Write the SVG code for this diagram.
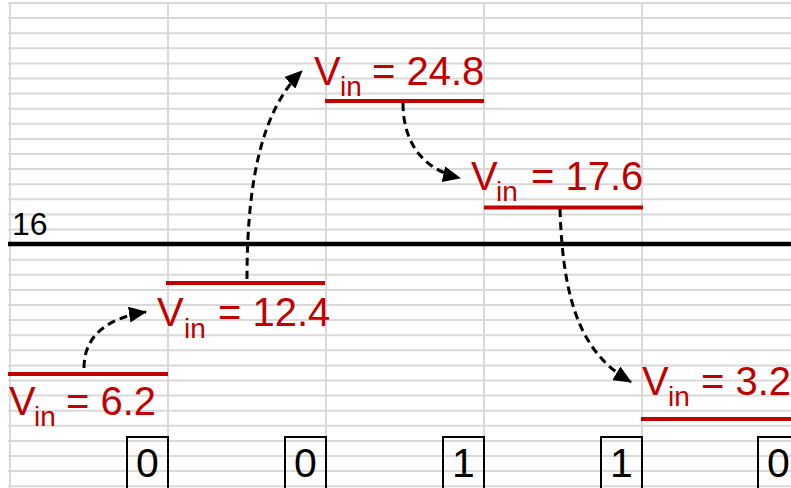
<svg xmlns="http://www.w3.org/2000/svg" width="791" height="488" viewBox="0 0 791 488">
<style>
.grid{stroke:#d9d9d9;stroke-width:2;fill:none}
.lvl{stroke:#c00000;stroke-width:4}
.vt{font-family:"Liberation Sans",Arial,sans-serif;font-size:40px;fill:#c00000}
.sub{font-size:28px}
.box{fill:none;stroke:#000;stroke-width:2}
.bit{font-family:"Liberation Sans",Arial,sans-serif;font-size:41px;fill:#000;text-anchor:middle}
.conn{fill:none;stroke:#000;stroke-width:3;stroke-dasharray:8 5;marker-end:url(#ah)}
</style>
<defs>
<marker id="ah" viewBox="0 0 18 16" refX="17" refY="8" markerWidth="18" markerHeight="16" markerUnits="userSpaceOnUse" orient="auto">
<path d="M0,0 L18,8 L0,16 z" fill="#000"/>
</marker>
</defs>
<rect width="791" height="488" fill="#fff"/>
<g id="grid" class="grid">
<path d="M8,3H791M8,18.1H791M8,33.2H791M8,48.3H791M8,63.4H791M8,78.5H791M8,93.6H791M8,108.7H791M8,123.8H791M8,138.9H791M8,154H791M8,169.1H791M8,184.2H791M8,199.3H791M8,214.4H791M8,229.5H791M8,259.7H791M8,274.8H791M8,289.9H791M8,305H791M8,320.1H791M8,335.2H791M8,350.3H791M8,365.4H791M8,380.5H791M8,395.6H791M8,410.7H791M8,425.8H791M8,440.9H791M8,456H791M8,471.1H791M8,486.2H791"/>
<path d="M10,2V488M168,2V488M326,2V488M484,2V488M642,2V488"/>
</g>
<g id="threshold">
<line x1="8" y1="244" x2="791" y2="244" stroke="#000" stroke-width="4.5"/>
<text x="12" y="235" font-family="Liberation Sans,Arial,sans-serif" font-size="32" fill="#000">16</text>
</g>
<g id="v1">
<line class="lvl" x1="8" y1="374" x2="168" y2="374"/>
<text class="vt"><tspan x="9" y="415">V</tspan><tspan class="sub" x="34" y="426">in</tspan><tspan x="66" y="415">= 6.2</tspan></text>
</g>
<g id="v2">
<line class="lvl" x1="166" y1="283" x2="325" y2="283"/>
<text class="vt"><tspan x="157" y="326">V</tspan><tspan class="sub" x="184" y="338">in</tspan><tspan x="218" y="326">= 12.4</tspan></text>
</g>
<g id="v3">
<line class="lvl" x1="325" y1="101" x2="484" y2="101"/>
<text class="vt"><tspan x="314" y="85">V</tspan><tspan class="sub" x="340" y="96">in</tspan><tspan x="372" y="85">= 24.8</tspan></text>
</g>
<g id="v4">
<line class="lvl" x1="484" y1="207.5" x2="643" y2="207.5"/>
<text class="vt"><tspan x="471" y="190">V</tspan><tspan class="sub" x="496" y="201">in</tspan><tspan x="531" y="190">= 17.6</tspan></text>
</g>
<g id="v5">
<line class="lvl" x1="641" y1="419" x2="791" y2="419"/>
<text class="vt"><tspan x="642" y="395">V</tspan><tspan class="sub" x="668" y="406">in</tspan><tspan x="701" y="395">= 3.2</tspan></text>
</g>
<g id="bits">
<g id="b1"><rect class="box" x="127" y="437" width="41" height="60"/><text class="bit" x="147.5" y="477">0</text></g>
<g id="b2"><rect class="box" x="285" y="437" width="41" height="60"/><text class="bit" x="305.5" y="477">0</text></g>
<g id="b3"><rect class="box" x="443" y="437" width="41" height="60"/><text class="bit" x="463.5" y="477">1</text></g>
<g id="b4"><rect class="box" x="601" y="437" width="41" height="60"/><text class="bit" x="621.5" y="477">1</text></g>
<g id="b5"><rect class="box" x="758" y="437" width="41" height="60"/><text class="bit" x="778.5" y="477">0</text></g>
</g>
<g id="connectors">
<path class="conn" d="M84,368 C84,335 108,318 146,312"/>
<path class="conn" d="M247,279 C247,180 262,110 302,71"/>
<path class="conn" d="M403,103 C403,145 425,170 460,178"/>
<path class="conn" d="M560,209 C563,310 585,355 631,382"/>
</g>
</svg>
